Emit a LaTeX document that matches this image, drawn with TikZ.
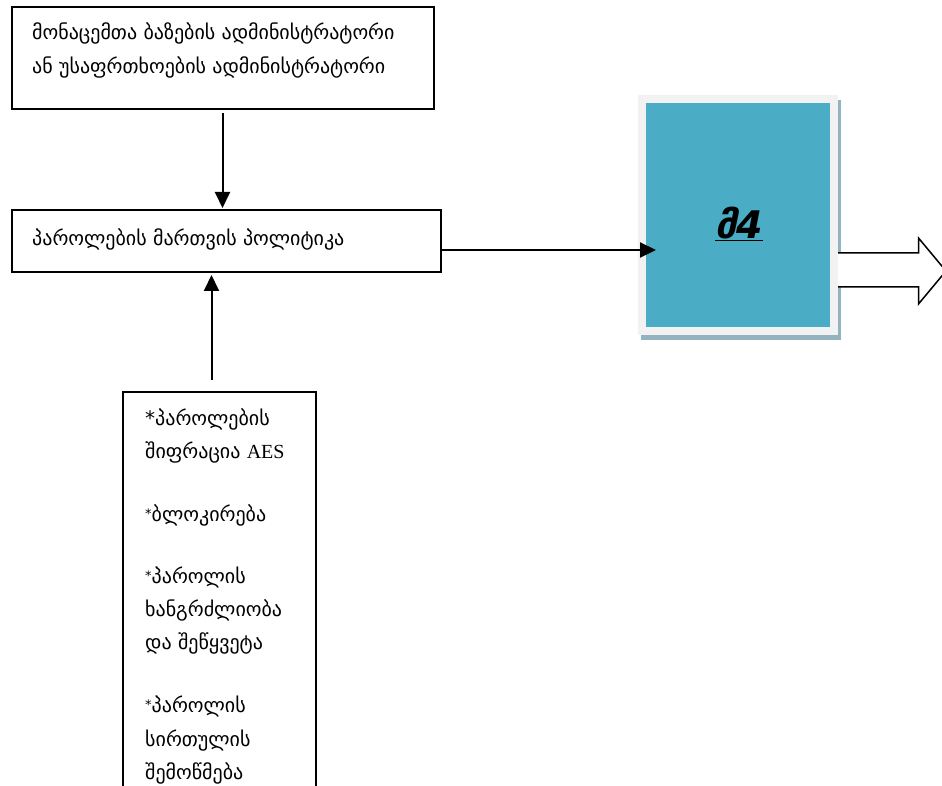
\documentclass[tikz,border=0pt]{standalone}
\usepackage{fontspec}
\setmainfont{DejaVu Sans}
\newfontfamily\latinserif{Liberation Serif}
\usetikzlibrary{arrows.meta}
\definecolor{tealfill}{HTML}{4BACC6}
\definecolor{framegray}{HTML}{F2F2F2}
\definecolor{shadowgray}{HTML}{93B3C0}
\tikzset{
  box/.style={draw=black, line width=1.6pt, fill=white, anchor=north west, inner sep=0pt},
  txt/.style={anchor=base west, inner sep=0pt, font=\fontsize{20}{24}\selectfont},
  flow/.style={line width=2pt, -{Triangle[length=16pt, width=15pt]}},
  smallstar/.style={},
}
\newcommand{\lowstar}{\raisebox{3pt}{\fontsize{13}{13}\selectfont*}}
\begin{document}
\begin{tikzpicture}[x=1pt, y=-1pt]
\useasboundingbox (0,0) rectangle (942,786);
\clip (0,0) rectangle (942,786);

% administrator box
\node[box, minimum width=422pt, minimum height=102pt] (admin) at (11,6) {};
\node[txt] (admin1) at (32,40) {მონაცემთა ბაზების ადმინისტრატორი};
\node[txt] (admin2) at (32,74) {ან უსაფრთხოების ადმინისტრატორი};

% policy box
\node[box, minimum width=429pt, minimum height=62pt] (policy) at (11,209) {};
\node[txt] (policy1) at (32,246) {პაროლების მართვის პოლიტიკა};

% measures box (runs past the bottom edge)
\node[box, minimum width=193pt, minimum height=420pt] (measures) at (122,391) {};
\node[txt] (m1) at (145,425) {*პაროლების};
\node[txt] (m2) at (145,458) {შიფრაცია {\latinserif AES}};
\node[txt] (m3) at (145,521) {\lowstar ბლოკირება};
\node[txt] (m4) at (145,583) {\lowstar პაროლის};
\node[txt] (m5) at (145,616) {ხანგრძლიობა};
\node[txt] (m6) at (145,649) {და შეწყვეტა};
\node[txt] (m7) at (145,712) {\lowstar პაროლის};
\node[txt] (m8) at (145,746) {სირთულის};
\node[txt] (m9) at (145,779) {შემოწმება};

% highlighted block with shadow and frame
\fill[shadowgray] (641,100) rectangle (840.5,340);
\node[fill=framegray, minimum width=200pt, minimum height=240pt, anchor=north west, inner sep=0pt] (frame) at (638,95) {};
\node[fill=tealfill, minimum width=184pt, minimum height=224pt, anchor=north west, inner sep=0pt] (block) at (646,103) {};
\node[inner sep=0pt, font=\fontsize{38}{38}\selectfont\bfseries\itshape] (label) at (739,224) {\underline{მ4}};

% connectors
\coordinate (adminfoot) at (222.5,113);
\coordinate (policyhead) at (222.5,208);
\draw[flow] (adminfoot) -- (policyhead);
\coordinate (measurestop) at (211.5,380);
\coordinate (policyfoot) at (211.5,275);
\draw[flow] (measurestop) -- (policyfoot);
\coordinate (blockin) at (656,250);
\draw[flow] (policy.east |- blockin) -- (blockin);

% outgoing block arrow
\draw[line width=1.5pt, fill=white, line join=miter]
  (838,253) -- (918.5,253) -- (918.5,238) -- (946,271) -- (918.5,304) -- (918.5,287) -- (838,287);
\end{tikzpicture}
\end{document}
